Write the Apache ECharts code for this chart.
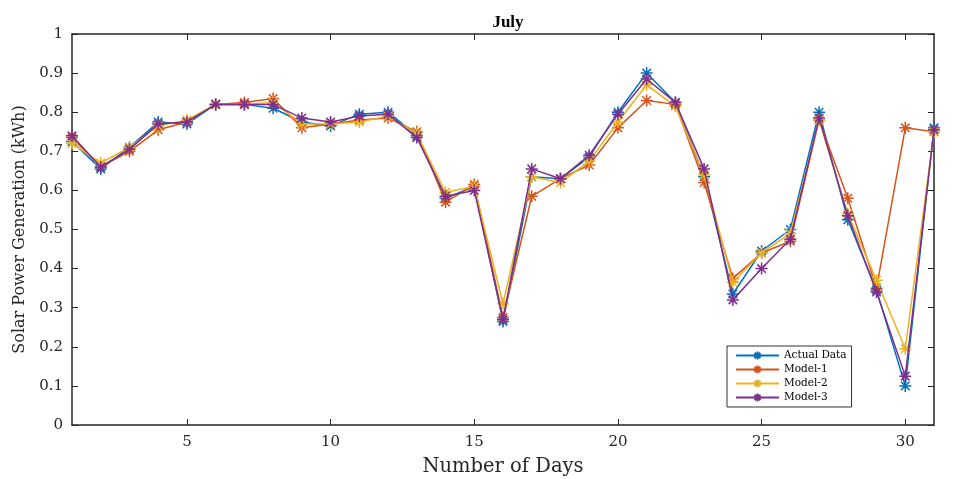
<!DOCTYPE html>
<html><head><meta charset="utf-8">
<script src="https://cdn.jsdelivr.net/npm/echarts@6/dist/echarts.min.js"></script>
<style>html,body{margin:0;padding:0;background:#fff}#c{width:954px;height:479px}</style>
</head><body><div id="c"></div>
<script>
const days = [1,2,3,4,5,6,7,8,9,10,11,12,13,14,15,16,17,18,19,20,21,22,23,24,25,26,27,28,29,30,31];
const actual = [0.725,0.655,0.71,0.775,0.77,0.82,0.82,0.81,0.775,0.765,0.795,0.80,0.74,0.58,0.61,0.265,0.635,0.63,0.685,0.80,0.90,0.825,0.635,0.335,0.445,0.50,0.80,0.525,0.345,0.10,0.76];
const model1 = [0.735,0.66,0.70,0.755,0.775,0.82,0.825,0.835,0.76,0.77,0.78,0.785,0.75,0.57,0.615,0.275,0.585,0.63,0.665,0.76,0.83,0.82,0.62,0.375,0.44,0.47,0.78,0.58,0.35,0.76,0.75];
const model2 = [0.72,0.67,0.71,0.765,0.78,0.82,0.82,0.825,0.77,0.77,0.775,0.79,0.745,0.595,0.61,0.31,0.635,0.62,0.675,0.775,0.87,0.815,0.64,0.365,0.44,0.49,0.78,0.54,0.37,0.195,0.75];
const model3 = [0.74,0.66,0.705,0.77,0.775,0.82,0.82,0.82,0.785,0.775,0.79,0.795,0.735,0.585,0.60,0.27,0.655,0.63,0.69,0.795,0.885,0.825,0.655,0.32,0.40,0.475,0.785,0.535,0.34,0.125,0.755];
const seriesNames = ['Actual Data','Model-1','Model-2','Model-3'];
const xTicks = [5,10,15,20,25,30];
const colors = ['#0072BD','#D95319','#EDB120','#7E2F8E'];
const FONT = '"DejaVu Serif",serif';
const TFONT = '"Liberation Serif",serif';
const star = 'path://M0,-10L0,10M-10,0L10,0M-7.07,-7.07L7.07,7.07M-7.07,7.07L7.07,-7.07';
const all = [actual, model1, model2, model3];
const axisCol = '#262626';
const chart = echarts.init(document.getElementById('c'));
chart.setOption({
  animation:false,
  title:{text:'July',left:503,top:9,textAlign:'center',textStyle:{fontFamily:TFONT,fontWeight:'bold',fontSize:17,color:'#000'}},
  grid:{left:72,right:20,top:34,bottom:54,show:false,containLabel:false,outerBoundsMode:'none'},
  legend:{orient:'vertical',left:727,top:346,itemWidth:43,itemHeight:10,itemGap:3,padding:[4,5,4,8],
    backgroundColor:'#fff',borderColor:'#333',borderWidth:1,borderRadius:0,
    textStyle:{fontFamily:FONT,fontSize:10.5,lineHeight:11,color:'#000'},data:seriesNames},
  xAxis:[{type:'value',min:1,max:31,position:'bottom',
    name:'Number of Days',nameLocation:'middle',nameGap:32,nameTextStyle:{fontFamily:FONT,fontSize:19.5,color:'#262626'},
    axisLine:{show:true,onZero:false,lineStyle:{color:axisCol,width:1.5}},
    axisTick:{show:true,inside:true,length:6,customValues:xTicks,lineStyle:{color:axisCol}},
    axisLabel:{show:true,customValues:xTicks,fontFamily:FONT,fontSize:15,color:'#262626',margin:10},
    splitLine:{show:false}},
   {type:'value',min:1,max:31,position:'top',
    axisLine:{show:true,onZero:false,lineStyle:{color:axisCol,width:1.5}},
    axisTick:{show:true,inside:true,length:6,customValues:xTicks,lineStyle:{color:axisCol}},
    axisLabel:{show:false},splitLine:{show:false}}],
  yAxis:[{type:'value',min:0,max:1,interval:0.1,position:'left',
    name:'Solar Power Generation (kWh)',nameLocation:'middle',nameGap:44,nameTextStyle:{fontFamily:FONT,fontSize:16,color:'#262626'},
    axisLine:{show:true,onZero:false,lineStyle:{color:axisCol,width:1.5}},
    axisTick:{show:true,inside:true,length:6,lineStyle:{color:axisCol}},
    axisLabel:{fontFamily:FONT,fontSize:15,color:'#262626',margin:9},
    splitLine:{show:false}},
   {type:'value',min:0,max:1,interval:0.1,position:'right',
    axisLine:{show:true,onZero:false,lineStyle:{color:axisCol,width:1.5}},
    axisTick:{show:true,inside:true,length:6,lineStyle:{color:axisCol}},
    axisLabel:{show:false},splitLine:{show:false}}],
  series: all.map((arr,i)=>({
    name:seriesNames[i],type:'line',
    data:days.map((d,j)=>[d,arr[j]]),
    symbol:star,symbolSize:12,showSymbol:true,
    lineStyle:{color:colors[i],width:1.5},
    itemStyle:{color:colors[i],borderColor:colors[i],borderWidth:1.5},
    z:2+i
  }))
});
</script></body></html>
